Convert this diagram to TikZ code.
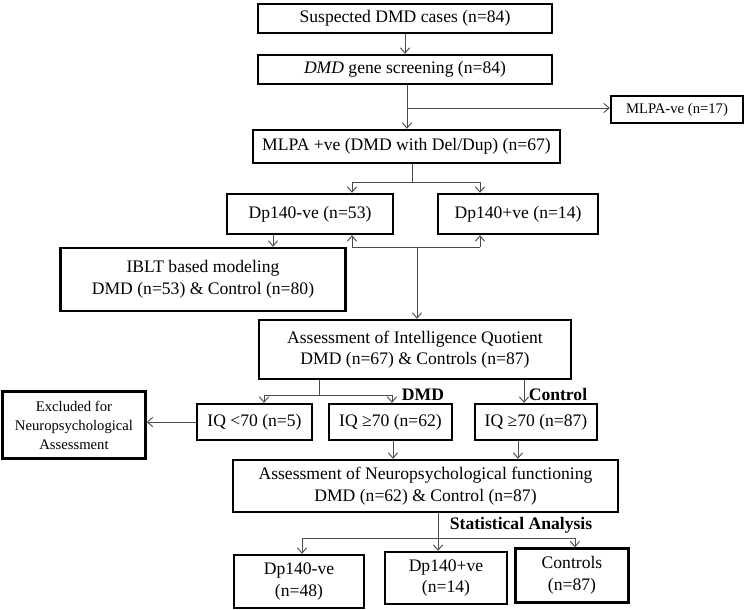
\documentclass[tikz,border=0pt]{standalone}
\usepackage{fontspec}
\setmainfont{Liberation Serif}
\usetikzlibrary{arrows.meta}
\tikzset{
  box/.style={draw=black,line width=1.8pt,fill=white,align=center,inner sep=1pt,font=\fontsize{13.2}{16.2}\selectfont},
  sz/.style 2 args={minimum width=#1*0.75pt,minimum height=#2*0.75pt},
  conn/.style={draw=black!70,line width=0.7pt},
  arr/.style={conn,-{Straight Barb[length=4pt,width=7pt,line width=0.7pt]}},
  lab/.style={font=\bfseries\fontsize{13.2}{15}\selectfont,inner sep=0pt}}
\begin{document}
\begin{tikzpicture}[x=0.75pt,y=-0.75pt]
\useasboundingbox (0,0) rectangle (751,610);
% boxes
\node[box,sz={294}{29}] (s1) at (405,18.5) {Suspected DMD cases (n=84)};
\node[box,sz={294}{29}] (s2) at (405,69.5) {\textit{DMD} gene screening (n=84)};
\node[box,sz={132}{27},font=\fontsize{11}{13}\selectfont] (mneg) at (677,109.5) {MLPA-ve (n=17)};
\node[box,sz={307}{33}] (mpos) at (406.5,146.5) {MLPA +ve (DMD with Del/Dup) (n=67)};
\node[box,sz={166}{40}] (dneg) at (310,214) {Dp140-ve (n=53)};
\node[box,sz={160}{40}] (dpos) at (518,214) {Dp140+ve (n=14)};
\node[box,sz={285}{63}] (iblt) at (203,279.5) {IBLT based modeling\\DMD (n=53) \& Control (n=80)};
\node[box,sz={312}{59}] (iq) at (415,349.5) {Assessment of Intelligence Quotient\\DMD (n=67) \& Controls (n=87)};
\node[box,sz={143}{67},font=\fontsize{11}{14.2}\selectfont] (excl) at (74,425) {Excluded for\\Neuropsychological\\Assessment};
\node[box,sz={115}{36}] (iql) at (254.5,422) {IQ <70 (n=5)};
\node[box,sz={123}{36}] (iqh) at (390.5,422) {IQ ≥70 (n=62)};
\node[box,sz={122}{36}] (iqc) at (536,422) {IQ ≥70 (n=87)};
\node[box,sz={385}{52}] (neuro) at (425.5,486) {Assessment of Neuropsychological functioning\\DMD (n=62) \& Control (n=87)};
\node[box,sz={130}{53}] (f1) at (299,581.5) {Dp140-ve\\(n=48)};
\node[box,sz={122}{52}] (f2) at (446,578) {Dp140+ve\\(n=14)};
\node[box,sz={113}{54}] (f3) at (572,575.5) {Controls\\(n=87)};
% labels
\node[lab] (ldmd) at (423,395) {DMD};
\node[lab] (lctl) at (558,394) {Control};
\node[lab] (lstat) at (521,525) {Statistical Analysis};
% coordinates
\coordinate (j0) at (407,108);
\coordinate (j1) at (412,182);
\coordinate (a1) at (352,182);
\coordinate (a2) at (480,182);
\coordinate (b0) at (417,247);
\coordinate (b1) at (352,247);
\coordinate (b2) at (480,247);
\coordinate (c1) at (273,0);
\coordinate (q0) at (319,395);
\coordinate (q1) at (264,395);
\coordinate (q2) at (392,395);
\coordinate (qc) at (524,0);
\coordinate (n1) at (393,0);
\coordinate (n2) at (518,0);
\coordinate (k0) at (438,538);
\coordinate (k1) at (302,538);
\coordinate (k3) at (575,538);
% connectors
\draw[arr] (s1) -- (s2);
\draw[arr] (s2.south -| j0) -- (mpos.north -| j0);
\draw[arr] (j0) -- (mneg.west |- j0);
\draw[conn] (mpos.south -| j1) -- (j1);
\draw[conn] (a1) -- (a2);
\draw[arr] (a1) -- (dneg.north -| a1);
\draw[arr] (a2) -- (dpos.north -| a2);
\draw[arr] (b1) -- (dneg.south -| b1);
\draw[arr] (b2) -- (dpos.south -| b2);
\draw[conn] (b1) -- (b2);
\draw[arr] (b0) -- (iq.north -| b0);
\draw[arr] (dneg.south -| c1) -- (iblt.north -| c1);
\draw[conn] (iq.south -| q0) -- (q0);
\draw[conn] (q1) -- (q2);
\draw[arr] (q1) -- (iql.north -| q1);
\draw[arr] (q2) -- (iqh.north -| q2);
\draw[arr] (iq.south -| qc) -- (iqc.north -| qc);
\draw[arr] (iql.west) -- (excl.east |- iql.west);
\draw[arr] (iqh.south -| n1) -- (neuro.north -| n1);
\draw[arr] (iqc.south -| n2) -- (neuro.north -| n2);
\draw[arr] (neuro.south -| k0) -- (f2.north -| k0);
\draw[conn] (k1) -- (k3);
\draw[arr] (k1) -- (f1.north -| k1);
\draw[arr] (k3) -- (f3.north -| k3);
\end{tikzpicture}
\end{document}
